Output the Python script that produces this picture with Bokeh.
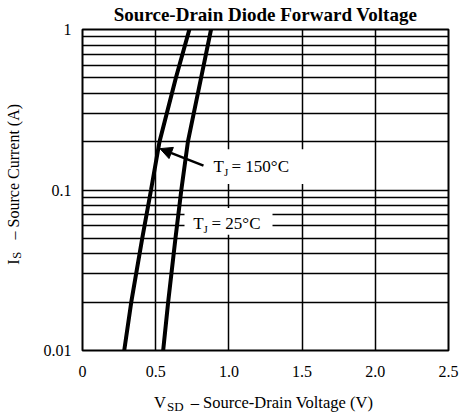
import math
from bokeh.plotting import figure
from bokeh.models import (FixedTicker, CustomJSTickFormatter, Label, BoxAnnotation,
                          Arrow, NormalHead, Range1d)
from bokeh.embed import file_html
from bokeh.resources import INLINE

# ---- data ----
current_a = [0.01, 0.02, 0.05, 0.1, 0.2, 0.5, 1.0]
vsd_150c = [0.285, 0.333, 0.408, 0.468, 0.526, 0.638, 0.730]
vsd_25c = [0.551, 0.585, 0.635, 0.675, 0.720, 0.810, 0.878]

x_ticks = [0, 0.5, 1.0, 1.5, 2.0, 2.5]
y_ticks = [0.01, 0.1, 1]
x_grid = [0.5, 1.0, 1.5, 2.0]
y_grid = [0.02, 0.03, 0.04, 0.05, 0.06, 0.07, 0.08, 0.09, 0.1,
          0.2, 0.3, 0.4, 0.5, 0.6, 0.7, 0.8, 0.9]

title_text = "Source-Drain Diode Forward Voltage"
serif = "Liberation Serif"
NB = "\u00a0"

W, H = 459, 413
FL, FW, FT, FH = 82.0, 366.0, 29.0, 322.0


def px_x(px):
    return (px - FL) / FW * 2.5


def px_y(py):
    return 10 ** (-(py - FT) / (FH / 2.0))


p = figure(width=W, height=H, x_range=Range1d(0, 2.5), y_range=Range1d(0.01, 1),
           y_axis_type="log", output_backend="svg", toolbar_location=None,
           min_border_left=82, min_border_right=11, min_border_top=29, min_border_bottom=62)

p.background_fill_color = "white"
p.border_fill_color = "white"
p.outline_line_color = "black"
p.outline_line_width = 2

p.xgrid.ticker = FixedTicker(ticks=x_grid)
p.ygrid.ticker = FixedTicker(ticks=y_grid)
for g in (p.xgrid, p.ygrid):
    g.grid_line_color = "black"
    g.grid_line_width = 1.5
    g.grid_line_alpha = 1.0

p.xaxis.ticker = FixedTicker(ticks=x_ticks)
p.yaxis.ticker = FixedTicker(ticks=y_ticks)
p.xaxis.formatter = CustomJSTickFormatter(code="return tick === 0 ? '0' : tick.toFixed(1);")
p.yaxis.formatter = CustomJSTickFormatter(code="return String(tick);")
for ax in (p.xaxis, p.yaxis):
    ax.axis_line_color = None
    ax.major_tick_line_color = None
    ax.minor_tick_line_color = None
    ax.major_tick_out = 0
    ax.major_tick_in = 0
    ax.minor_tick_out = 0
    ax.minor_tick_in = 0
    ax.major_label_text_font = serif
    ax.major_label_text_font_size = "16px"
    ax.major_label_text_color = "black"
p.xaxis.major_label_standoff = 15
p.yaxis.major_label_standoff = 11

p.line(vsd_150c, current_a, line_color="black", line_width=4)
p.line(vsd_25c, current_a, line_color="black", line_width=4)

p.add_layout(BoxAnnotation(left=px_x(206), right=px_x(305), top=px_y(149), bottom=px_y(184),
                           fill_color="white", fill_alpha=1.0, line_color=None))
p.add_layout(BoxAnnotation(left=px_x(184), right=px_x(272), top=px_y(208), bottom=px_y(235),
                           fill_color="white", fill_alpha=1.0, line_color=None))

p.add_layout(Arrow(end=NormalHead(size=12, fill_color="black", line_color="black"),
                   x_start=px_x(203), y_start=px_y(165.5), x_end=px_x(159.5), y_end=px_y(148.5),
                   line_color="black", line_width=2.5))


def lab(px, py, text, size, bold=False, align="left", angle=0.0, place="center"):
    p.add_layout(Label(x=px_x(px), y=px_y(py), text=text, text_font=serif,
                       text_font_size=size, text_font_style="bold" if bold else "normal",
                       text_align=align, text_baseline="alphabetic", angle=angle,
                       text_color="black"), place)


# curve labels (inside the frame)
lab(213, 166, "T", "17px")
lab(223.4, 171.5, "J", "11px")
lab(231, 166, "= 150°C", "17px")

lab(192.7, 223.5, "T", "17px")
lab(203.1, 229, "J", "11px")
lab(211, 223.5, "= 25°C", "17px")

# title (side panel so that it is not clipped to the frame)
lab(265, 14, title_text, "19px", bold=True, align="center", place="above")

# x axis label
lab(153.5, 403, "V" + NB * 6 + "– Source-Drain Voltage (V)", "16.5px", place="below")
lab(166.5, 407.5, "SD", "13px", place="below")

# y axis label (rotated)
lab(13, 265, "I" + NB * 5 + "– Source Current (A)", "16px", angle=math.pi / 2, place="left")
lab(16.5, 259, "S", "12.5px", angle=math.pi / 2, place="left")

open("out.html", "w").write(file_html(p, INLINE))
